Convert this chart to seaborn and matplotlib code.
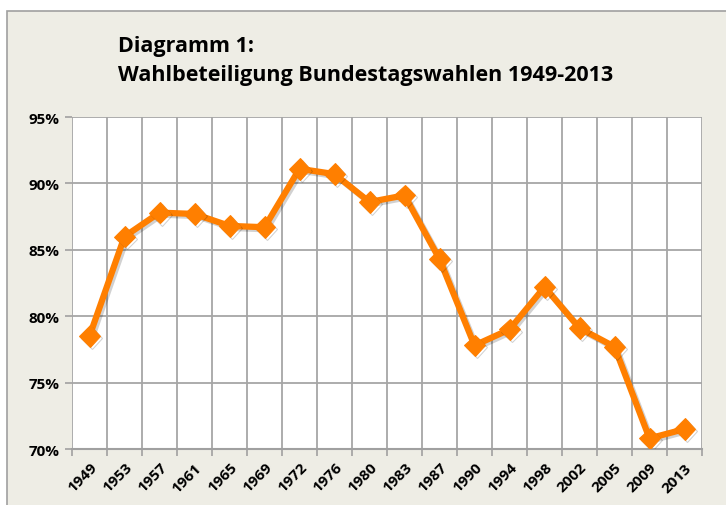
import matplotlib
matplotlib.use("Agg")
import matplotlib.pyplot as plt
import matplotlib.patheffects as pe
from matplotlib.patches import Rectangle
from matplotlib.ticker import FixedLocator, FuncFormatter
import numpy as np
import pandas as pd
import seaborn as sns

# Wahlbeteiligung in Prozent
years = ["1949", "1953", "1957", "1961", "1965", "1969", "1972", "1976", "1980",
         "1983", "1987", "1990", "1994", "1998", "2002", "2005", "2009", "2013"]
turnout = [78.5, 86.0, 87.8, 87.7, 86.8, 86.7, 91.1, 90.7, 88.6,
           89.1, 84.3, 77.8, 79.0, 82.2, 79.1, 77.7, 70.8, 71.5]
y_ticks = [70, 75, 80, 85, 90, 95]

df = pd.DataFrame({"pos": np.arange(len(years)), "turnout": turnout})

sns.set_style("white")
plt.rcParams["font.family"] = ["Open Sans", "DejaVu Sans"]
plt.rcParams["text.color"] = "black"
plt.rcParams["xtick.labelcolor"] = "black"
plt.rcParams["ytick.labelcolor"] = "black"

fig = plt.figure(figsize=(7.26, 5.06), dpi=100, facecolor="white")
# beige background panel with grey border
fig.patches.append(Rectangle((7 / 726, -0.01), 1.0, (506 - 12) / 506 + 0.01,
                             transform=fig.transFigure, facecolor="#EEEDE5",
                             edgecolor="#A0A0A0", linewidth=1.2, zorder=-1))

ax = fig.add_axes([72 / 726, 1 - 450 / 506, 630 / 726, 332 / 506])
ax.set_facecolor("white")

orange = "#FF7F00"
sns.lineplot(data=df, x="pos", y="turnout", ax=ax, color=orange, linewidth=4.5,
             marker="D", markersize=11, markeredgecolor=orange, zorder=3,
             path_effects=[pe.SimpleLineShadow(offset=(1.5, -1.5), alpha=0.18,
                                                shadow_color="black"),
                           pe.Normal()])

ax.set_xlim(-0.5, len(years) - 0.5)
ax.set_ylim(70, 95)
ax.set_xlabel("")
ax.set_ylabel("")

# vertical gridlines between categories, labels at centers
ax.xaxis.set_major_locator(FixedLocator(np.arange(-0.5, len(years), 1.0)))
ax.xaxis.set_minor_locator(FixedLocator(np.arange(len(years))))
ax.set_xticklabels([], minor=False)
ax.set_xticklabels(years, minor=True, rotation=45, ha="right",
                   rotation_mode="anchor", fontsize=11, fontweight="bold",
                   color="black")
ax.tick_params(axis="x", which="major", length=5, color="#A0A0A0", width=1.2,
               direction="out", bottom=True)
ax.tick_params(axis="x", which="minor", length=0, pad=8)

ax.set_yticks(y_ticks)
ax.yaxis.set_major_formatter(FuncFormatter(lambda v, p: f"{v:.0f}%"))
ax.tick_params(axis="y", length=5, color="#A0A0A0", width=1.2, direction="out",
               left=True, labelsize=11, pad=4, labelcolor="black")
for lbl in ax.get_yticklabels():
    lbl.set_fontweight("bold")

ax.grid(True, which="major", color="#A6A6A6", linewidth=1.3)
ax.set_axisbelow(True)
for side in ["top", "right", "left"]:
    ax.spines[side].set_visible(False)
ax.spines["bottom"].set_color("#A0A0A0")
ax.spines["bottom"].set_linewidth(1.5)

fig.text(118 / 726, 1 - 61 / 506, "Diagramm 1:\nWahlbeteiligung Bundestagswahlen 1949-2013",
         fontsize=15.5, fontweight="bold", va="center", ha="left", linespacing=1.45,
         color="black")

fig.savefig("out.png", dpi=100, facecolor=fig.get_facecolor())
